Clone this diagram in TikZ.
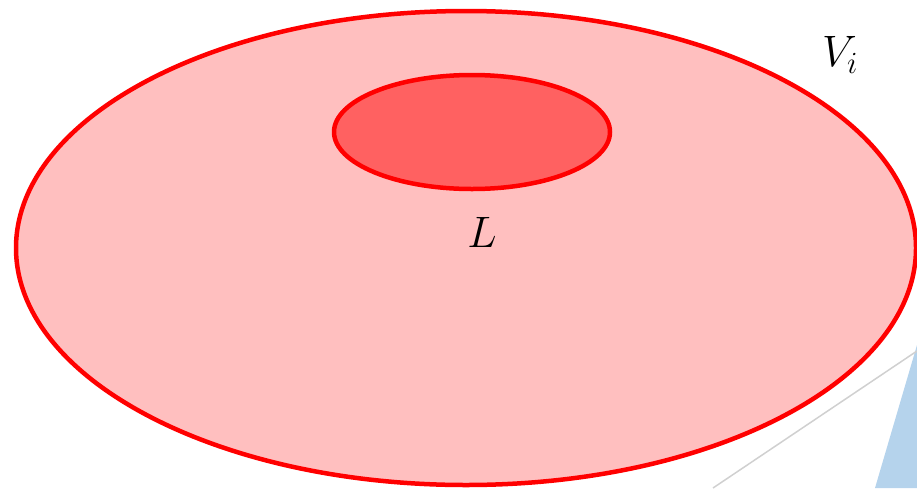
\documentclass[tikz,border=0pt]{standalone}
\usepackage{fix-cm}
\definecolor{bigfill}{HTML}{FFBFBF}
\definecolor{smallfill}{HTML}{FF6161}
\definecolor{edgered}{HTML}{FF0000}
\definecolor{blueregion}{HTML}{B5D3EC}
\definecolor{grayline}{HTML}{D0D0D0}
\tikzset{
  setellipse/.style={draw=edgered, line width=4.5pt},
  biglabel/.style={font=\fontsize{44}{52}\selectfont, inner sep=0pt}
}
\begin{document}
\begin{tikzpicture}[x=1pt,y=-1pt]
\useasboundingbox (0,0) rectangle (917,488);
% blue region
\fill[blueregion] (875,488) -- (917,345) -- (917,488) -- cycle;
% gray line
\coordinate (g1) at (713,488);
\coordinate (g2) at (917,351);
\draw[grayline, line width=1.5pt] (g1) -- (g2);
% big set
\draw[setellipse, fill=bigfill] (466,248) ellipse [x radius=450, y radius=237];
% small set
\draw[setellipse, fill=smallfill] (472,132) ellipse [x radius=138, y radius=57];
\node[biglabel] (Vi) at (840,55) {$V_i$};
\node[biglabel] (L) at (482,232) {$L$};
\end{tikzpicture}
\end{document}
